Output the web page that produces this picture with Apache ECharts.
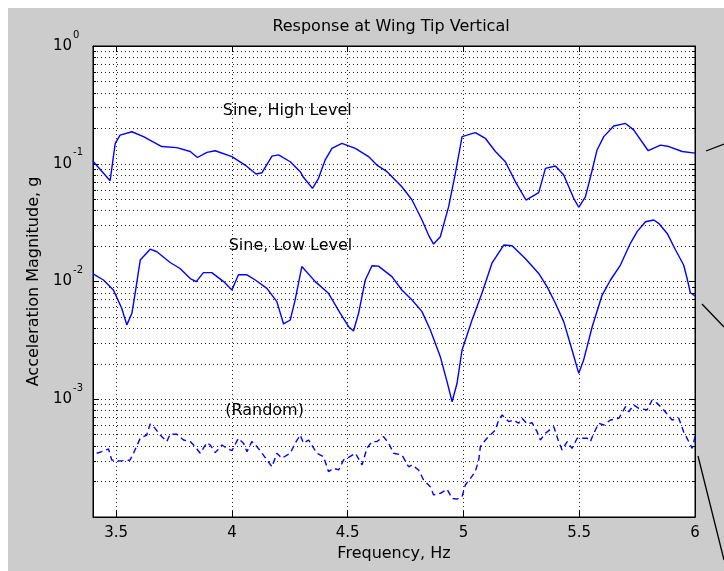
<!DOCTYPE html>
<html><head><meta charset="utf-8">
<script src="https://cdn.jsdelivr.net/npm/echarts@6/dist/echarts.min.js"></script>
<style>html,body{margin:0;padding:0;background:#fff}#c{width:724px;height:571px}</style>
</head><body><div id="c"></div>
<script>
const freqHigh = [3.400,3.474,3.496,3.517,3.568,3.618,3.697,3.762,3.820,3.851,3.892,3.928,4.000,4.057,4.104,4.130,4.173,4.201,4.252,4.295,4.309,4.348,4.374,4.403,4.432,4.475,4.533,4.590,4.626,4.670,4.734,4.778,4.821,4.849,4.871,4.900,4.936,4.965,4.994,5.015,5.051,5.095,5.138,5.181,5.224,5.270,5.325,5.354,5.397,5.433,5.476,5.498,5.527,5.556,5.577,5.606,5.649,5.700,5.735,5.798,5.851,5.887,5.945,6.000];
const magHigh = [0.105,0.0718,0.149,0.175,0.187,0.170,0.140,0.137,0.127,0.113,0.125,0.129,0.115,0.0975,0.0818,0.0839,0.116,0.119,0.104,0.0857,0.0767,0.0618,0.0752,0.108,0.135,0.149,0.135,0.115,0.0975,0.0857,0.0638,0.0492,0.0333,0.0248,0.0208,0.0240,0.0432,0.0830,0.170,0.175,0.184,0.164,0.127,0.104,0.0705,0.0492,0.0568,0.0914,0.0957,0.0802,0.0509,0.0427,0.0525,0.0885,0.131,0.170,0.209,0.220,0.194,0.129,0.144,0.140,0.127,0.123];

const freqLow = [3.400,3.445,3.488,3.524,3.546,3.568,3.582,3.604,3.647,3.676,3.733,3.776,3.820,3.846,3.877,3.913,3.964,4.000,4.028,4.065,4.101,4.151,4.194,4.223,4.252,4.273,4.302,4.360,4.417,4.468,4.504,4.525,4.547,4.576,4.605,4.633,4.691,4.734,4.778,4.821,4.857,4.900,4.929,4.951,4.972,4.994,5.037,5.080,5.123,5.174,5.210,5.267,5.325,5.361,5.397,5.433,5.469,5.498,5.519,5.556,5.599,5.635,5.678,5.721,5.750,5.786,5.822,5.843,5.880,5.916,5.951,5.966,5.980,6.000];
const magLow = [0.0116,0.0103,0.00847,0.00592,0.00428,0.00537,0.00794,0.0152,0.0188,0.0179,0.0145,0.0129,0.0106,0.00998,0.0119,0.0119,0.00998,0.00847,0.0114,0.0114,0.0103,0.00875,0.00675,0.00436,0.00471,0.00697,0.0134,0.00998,0.00794,0.00537,0.00413,0.00380,0.00537,0.0103,0.0136,0.0135,0.0110,0.00847,0.00697,0.00555,0.00387,0.00230,0.00141,0.000953,0.00136,0.00262,0.00471,0.00794,0.0143,0.0204,0.0201,0.0157,0.0117,0.00904,0.00653,0.00456,0.00262,0.00166,0.00215,0.00413,0.00767,0.0103,0.0138,0.0211,0.0265,0.0322,0.0333,0.0312,0.0256,0.0185,0.0138,0.0106,0.00803,0.00753];

const freqRandom = [3.416,3.438,3.467,3.481,3.503,3.531,3.560,3.575,3.604,3.632,3.647,3.668,3.690,3.719,3.733,3.762,3.791,3.820,3.841,3.863,3.892,3.906,3.928,3.957,3.978,4.000,4.028,4.050,4.065,4.086,4.108,4.130,4.151,4.173,4.194,4.216,4.252,4.273,4.295,4.309,4.331,4.367,4.396,4.417,4.439,4.461,4.482,4.504,4.533,4.562,4.583,4.605,4.626,4.655,4.677,4.698,4.734,4.763,4.778,4.806,4.828,4.857,4.871,4.900,4.929,4.951,4.972,4.994,5.008,5.030,5.051,5.066,5.073,5.095,5.116,5.138,5.152,5.167,5.195,5.217,5.238,5.253,5.275,5.296,5.318,5.332,5.354,5.390,5.411,5.426,5.448,5.469,5.491,5.534,5.548,5.563,5.584,5.606,5.635,5.671,5.700,5.714,5.735,5.757,5.793,5.815,5.837,5.865,5.901,5.930,5.951,5.973,5.988,6.000];
const magRandom = [0.000348,0.000359,0.000378,0.000305,0.000299,0.000301,0.000305,0.000348,0.000466,0.000497,0.000617,0.000566,0.000497,0.000437,0.000507,0.000504,0.000451,0.000437,0.000396,0.000348,0.000428,0.000409,0.000352,0.000409,0.000383,0.000366,0.000466,0.000423,0.000359,0.000437,0.000396,0.000348,0.000305,0.000267,0.000348,0.000316,0.000348,0.000423,0.000497,0.000423,0.000451,0.000348,0.000325,0.000243,0.000259,0.000251,0.000305,0.000321,0.000348,0.000277,0.000383,0.000437,0.000437,0.000481,0.000423,0.000348,0.000337,0.000267,0.000277,0.000251,0.000206,0.000181,0.000154,0.000159,0.000172,0.000144,0.000142,0.000149,0.000187,0.000213,0.000243,0.000305,0.000396,0.000451,0.000497,0.000548,0.000667,0.000735,0.000646,0.000667,0.000625,0.000689,0.000617,0.000632,0.000530,0.000451,0.000514,0.000585,0.000437,0.000371,0.000437,0.000383,0.000466,0.000466,0.000437,0.000514,0.000625,0.000604,0.000667,0.000689,0.000865,0.000783,0.000893,0.000838,0.000811,0.000986,0.000923,0.000811,0.000667,0.000689,0.000530,0.000437,0.000383,0.000481];

const xTicks = [3.5, 4, 4.5, 5, 5.5, 6];
const yDecades = [1e-4, 1e-3, 1e-2, 1e-1, 1];
const yLabelValues = [1e-3, 1e-2, 1e-1, 1];
const yMinorMultipliers = [2, 3, 4, 5, 6, 7, 8, 9];

const annotationText = ['Sine, High Level', 'Sine, Low Level', '(Random)'];
const annotationFreq = [4.239, 4.253, 4.141];
const annotationMag = [0.2805, 0.0201, 0.000794];

const FONT = 'DejaVu Sans';
const zip = (a, b) => a.map((v, i) => [v, b[i]]);
const yAll = [];
yDecades.forEach((d, i) => { yAll.push(d); if (i < yDecades.length - 1) yMinorMultipliers.forEach(m => yAll.push(+(d * m).toPrecision(3))); });

const baseY = { type: 'log', logBase: 10, min: 1e-4, max: 1, gridIndex: 0 };
const gridDots = { color: '#222', type: [1, 3], width: 1 };
const decorations = [
  { type: 'rect', shape: { x: 0, y: 0, width: 724, height: 8 }, style: { fill: '#fff' }, silent: true },
  { type: 'rect', shape: { x: 0, y: 0, width: 8, height: 571 }, style: { fill: '#fff' }, silent: true },
  { type: 'text', x: 391, y: 27, style: { text: 'Response at Wing Tip Vertical', fontSize: 16, fontFamily: FONT, fill: '#000', align: 'center', verticalAlign: 'middle' }, silent: true },
  { type: 'line', shape: { x1: 706, y1: 151, x2: 724, y2: 144 }, style: { stroke: '#000', lineWidth: 1.3 }, silent: true },
  { type: 'line', shape: { x1: 702, y1: 304, x2: 724, y2: 327 }, style: { stroke: '#000', lineWidth: 1.3 }, silent: true },
  { type: 'line', shape: { x1: 698, y1: 456, x2: 724, y2: 560 }, style: { stroke: '#000', lineWidth: 1.3 }, silent: true }
];
const chart = echarts.init(document.getElementById('c'), null, { renderer: 'canvas' });
chart.setOption({
  animation: false,
  backgroundColor: '#cccccc',
  grid: { left: 93, top: 46, width: 602, height: 471, show: true, backgroundColor: '#ffffff', borderColor: '#000', borderWidth: 1 },
  xAxis: [
    { type: 'value', min: 3.4, max: 6, position: 'bottom',
      axisLine: { show: true, lineStyle: { color: '#000' } },
      axisTick: { show: true, inside: true, length: 6, customValues: xTicks, lineStyle: { color: '#000' } },
      axisLabel: { customValues: xTicks, color: '#000', fontSize: 15, fontFamily: FONT, margin: 9, formatter: v => String(v) },
      splitLine: { show: true, lineStyle: gridDots },
      name: 'Frequency, Hz', nameLocation: 'middle', nameGap: 28,
      nameTextStyle: { color: '#000', fontSize: 16, fontFamily: FONT } },
    { type: 'value', min: 3.4, max: 6, position: 'top',
      axisLine: { show: true, lineStyle: { color: '#000' } },
      axisTick: { show: true, inside: true, length: 6, customValues: xTicks, lineStyle: { color: '#000' } },
      axisLabel: { show: false }, splitLine: { show: false } }
  ],
  yAxis: [
    Object.assign({}, baseY, { position: 'left',
      axisLine: { show: true, lineStyle: { color: '#000' } },
      axisTick: { show: true, inside: true, length: 3, customValues: yAll, lineStyle: { color: '#000' } },
      axisLabel: { customValues: yLabelValues, align: 'left', margin: 40, color: '#000',
        formatter: v => '{b|10}{e|' + Math.round(Math.log10(v)) + '}',
        rich: { b: { fontSize: 15, fontFamily: FONT, color: '#000', lineHeight: 15 },
                e: { fontSize: 10, fontFamily: FONT, color: '#000', lineHeight: 10, padding: [0, 0, 22, 1] } } },
      splitLine: { show: true, lineStyle: gridDots },
      name: 'Acceleration Magnitude, g', nameLocation: 'middle', nameGap: 51,
      nameTextStyle: { color: '#000', fontSize: 16, fontFamily: FONT } }),
    Object.assign({}, baseY, { position: 'left',
      axisLine: { show: false },
      axisTick: { show: true, inside: true, length: 6, customValues: yDecades, lineStyle: { color: '#000' } },
      axisLabel: { show: false }, splitLine: { show: false } }),
    Object.assign({}, baseY, { position: 'right',
      axisLine: { show: true, lineStyle: { color: '#000' } },
      axisTick: { show: true, inside: true, length: 3, customValues: yAll, lineStyle: { color: '#000' } },
      axisLabel: { show: false }, splitLine: { show: false } }),
    Object.assign({}, baseY, { position: 'right',
      axisLine: { show: false },
      axisTick: { show: true, inside: true, length: 6, customValues: yDecades, lineStyle: { color: '#000' } },
      axisLabel: { show: false }, splitLine: { show: false } })
  ],
  graphic: decorations,
  series: [
    { name: 'Sine, High Level', type: 'line', data: zip(freqHigh, magHigh), symbol: 'none', lineStyle: { color: '#0000ff', width: 1.4 }, itemStyle: { color: '#0000ff' }, z: 3 },
    { name: 'Sine, Low Level', type: 'line', data: zip(freqLow, magLow), symbol: 'none', lineStyle: { color: '#0000ff', width: 1.4 }, itemStyle: { color: '#0000ff' }, z: 3 },
    { name: 'Random', type: 'line', data: zip(freqRandom, magRandom), symbol: 'none', lineStyle: { color: '#0000ff', width: 1.4, type: [6, 4] }, itemStyle: { color: '#0000ff' }, z: 3 }
  ]
});
// annotation texts placed at data coordinates through the chart's own scales
const annotations = annotationText.map((t, i) => {
  const p = chart.convertToPixel({ xAxisIndex: 0, yAxisIndex: 0 }, [annotationFreq[i], annotationMag[i]]);
  return { type: 'text', x: p[0], y: p[1], z: 100, silent: true,
    style: { text: t, fontSize: 16, fontFamily: FONT, fill: '#000', align: 'center', verticalAlign: 'middle' } };
});
chart.setOption({ graphic: decorations.concat(annotations) });
</script></body></html>
